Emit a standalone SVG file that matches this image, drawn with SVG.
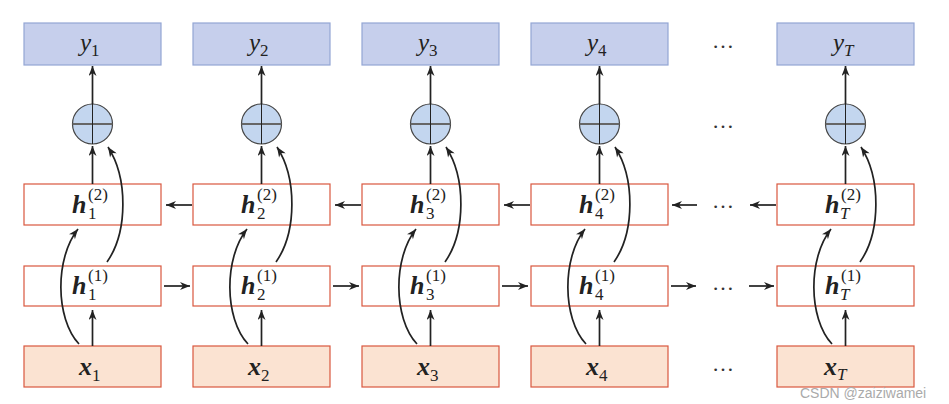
<svg xmlns="http://www.w3.org/2000/svg" width="949" height="404" viewBox="0 0 949 404">
<defs>
<style>
.yb{fill:#c6cfec;stroke:#93a6d4;stroke-width:1.2}
.hb{fill:#ffffff;stroke:#d9573e;stroke-width:1.2}
.xb{fill:#fbe3d2;stroke:#d9573e;stroke-width:1.2}
.cir{fill:#c3d6ef;stroke:#444;stroke-width:1.2}
.ch{stroke:#666;stroke-width:2.2}
.cv{stroke:#222;stroke-width:1}
text{font-family:"Liberation Serif","DejaVu Serif",serif}
.lbl{fill:#222}
.big{font-size:26px;font-style:italic;font-weight:bold}
.yl{font-size:25px;font-style:italic}
.sub{font-size:17px;font-style:normal;font-weight:normal}
.subi{font-size:17px;font-style:italic;font-weight:normal}
.dots{font-size:22px;fill:#333}
.con{fill:none;stroke:#222;stroke-width:1.7}
text.wm{font-family:"Liberation Sans",sans-serif;font-size:14px;fill:#aaa}
</style>
<marker id="ah" viewBox="0 0 10 8" refX="10" refY="4" markerWidth="11" markerHeight="8" markerUnits="userSpaceOnUse" orient="auto">
<path d="M0,0 L10,4 L0,8 L3,4 z" fill="#222"/>
</marker>
</defs>
<rect width="949" height="404" fill="#ffffff"/>

<!-- column 1 -->
<g id="y1"><rect class="yb" x="24" y="23" width="137" height="42"/><text class="lbl" x="80" y="51"><tspan class="yl">y</tspan><tspan class="sub" dy="5">1</tspan></text></g>
<g id="sum1"><circle class="cir" cx="92.5" cy="124" r="20"/><line class="ch" x1="72.5" y1="124" x2="112.5" y2="124"/><line class="cv" x1="92.5" y1="104" x2="92.5" y2="144"/></g>
<g id="h2_1"><rect class="hb" x="24" y="184" width="137" height="41"/><text class="lbl" x="72" y="213"><tspan class="big">h</tspan><tspan class="sub" x="88" y="219">1</tspan><tspan class="sub" x="88" y="200">(2)</tspan></text></g>
<g id="h1_1"><rect class="hb" x="24" y="266" width="137" height="40"/><text class="lbl" x="72" y="294"><tspan class="big">h</tspan><tspan class="sub" x="88" y="300">1</tspan><tspan class="sub" x="88" y="281">(1)</tspan></text></g>
<g id="x1"><rect class="xb" x="24" y="346" width="137" height="41"/><text class="lbl" x="79" y="375"><tspan class="big">x</tspan><tspan class="sub" dy="6">1</tspan></text></g>

<!-- column 2 -->
<g id="y2"><rect class="yb" x="193" y="23" width="137" height="42"/><text class="lbl" x="249" y="51"><tspan class="yl">y</tspan><tspan class="sub" dy="5">2</tspan></text></g>
<g id="sum2"><circle class="cir" cx="261.5" cy="124" r="20"/><line class="ch" x1="241.5" y1="124" x2="281.5" y2="124"/><line class="cv" x1="261.5" y1="104" x2="261.5" y2="144"/></g>
<g id="h2_2"><rect class="hb" x="193" y="184" width="137" height="41"/><text class="lbl" x="241" y="213"><tspan class="big">h</tspan><tspan class="sub" x="257" y="219">2</tspan><tspan class="sub" x="257" y="200">(2)</tspan></text></g>
<g id="h1_2"><rect class="hb" x="193" y="266" width="137" height="40"/><text class="lbl" x="241" y="294"><tspan class="big">h</tspan><tspan class="sub" x="257" y="300">2</tspan><tspan class="sub" x="257" y="281">(1)</tspan></text></g>
<g id="x2"><rect class="xb" x="193" y="346" width="137" height="41"/><text class="lbl" x="248" y="375"><tspan class="big">x</tspan><tspan class="sub" dy="6">2</tspan></text></g>

<!-- column 3 -->
<g id="y3"><rect class="yb" x="362" y="23" width="137" height="42"/><text class="lbl" x="418" y="51"><tspan class="yl">y</tspan><tspan class="sub" dy="5">3</tspan></text></g>
<g id="sum3"><circle class="cir" cx="430.5" cy="124" r="20"/><line class="ch" x1="410.5" y1="124" x2="450.5" y2="124"/><line class="cv" x1="430.5" y1="104" x2="430.5" y2="144"/></g>
<g id="h2_3"><rect class="hb" x="362" y="184" width="137" height="41"/><text class="lbl" x="410" y="213"><tspan class="big">h</tspan><tspan class="sub" x="426" y="219">3</tspan><tspan class="sub" x="426" y="200">(2)</tspan></text></g>
<g id="h1_3"><rect class="hb" x="362" y="266" width="137" height="40"/><text class="lbl" x="410" y="294"><tspan class="big">h</tspan><tspan class="sub" x="426" y="300">3</tspan><tspan class="sub" x="426" y="281">(1)</tspan></text></g>
<g id="x3"><rect class="xb" x="362" y="346" width="137" height="41"/><text class="lbl" x="417" y="375"><tspan class="big">x</tspan><tspan class="sub" dy="6">3</tspan></text></g>

<!-- column 4 -->
<g id="y4"><rect class="yb" x="531" y="23" width="137" height="42"/><text class="lbl" x="587" y="51"><tspan class="yl">y</tspan><tspan class="sub" dy="5">4</tspan></text></g>
<g id="sum4"><circle class="cir" cx="599.5" cy="124" r="20"/><line class="ch" x1="579.5" y1="124" x2="619.5" y2="124"/><line class="cv" x1="599.5" y1="104" x2="599.5" y2="144"/></g>
<g id="h2_4"><rect class="hb" x="531" y="184" width="137" height="41"/><text class="lbl" x="579" y="213"><tspan class="big">h</tspan><tspan class="sub" x="595" y="219">4</tspan><tspan class="sub" x="595" y="200">(2)</tspan></text></g>
<g id="h1_4"><rect class="hb" x="531" y="266" width="137" height="40"/><text class="lbl" x="579" y="294"><tspan class="big">h</tspan><tspan class="sub" x="595" y="300">4</tspan><tspan class="sub" x="595" y="281">(1)</tspan></text></g>
<g id="x4"><rect class="xb" x="531" y="346" width="137" height="41"/><text class="lbl" x="586" y="375"><tspan class="big">x</tspan><tspan class="sub" dy="6">4</tspan></text></g>

<!-- column T -->
<g id="yT"><rect class="yb" x="777" y="23" width="137" height="42"/><text class="lbl" x="833" y="51"><tspan class="yl">y</tspan><tspan class="subi" dy="5">T</tspan></text></g>
<g id="sumT"><circle class="cir" cx="845.5" cy="124" r="20"/><line class="ch" x1="825.5" y1="124" x2="865.5" y2="124"/><line class="cv" x1="845.5" y1="104" x2="845.5" y2="144"/></g>
<g id="h2_T"><rect class="hb" x="777" y="184" width="137" height="41"/><text class="lbl" x="825" y="213"><tspan class="big">h</tspan><tspan class="subi" x="840" y="219">T</tspan><tspan class="sub" x="841" y="200">(2)</tspan></text></g>
<g id="h1_T"><rect class="hb" x="777" y="266" width="137" height="40"/><text class="lbl" x="825" y="294"><tspan class="big">h</tspan><tspan class="subi" x="840" y="300">T</tspan><tspan class="sub" x="841" y="281">(1)</tspan></text></g>
<g id="xT"><rect class="xb" x="777" y="346" width="137" height="41"/><text class="lbl" x="824" y="375"><tspan class="big">x</tspan><tspan class="subi" dy="5">T</tspan></text></g>

<!-- ellipses -->
<g id="ellipses">
<text class="dots" x="712" y="48">…</text>
<text class="dots" x="712" y="128">…</text>
<text class="dots" x="712" y="208">…</text>
<text class="dots" x="712" y="290">…</text>
<text class="dots" x="712" y="371">…</text>
</g>

<g id="connectors">
<!-- col1 -->
<path class="con" marker-end="url(#ah)" d="M92.5,104 L92.5,66"/>
<path class="con" marker-end="url(#ah)" d="M92.5,184 L92.5,146"/>
<path class="con" marker-end="url(#ah)" d="M92.5,346 L92.5,310"/>
<path class="con" marker-end="url(#ah)" d="M79,344 C55,318 55,258 78,229"/>
<path class="con" marker-end="url(#ah)" d="M107,262 C128,232 128,178 108,147"/>
<!-- col2 -->
<path class="con" marker-end="url(#ah)" d="M261.5,104 L261.5,66"/>
<path class="con" marker-end="url(#ah)" d="M261.5,184 L261.5,146"/>
<path class="con" marker-end="url(#ah)" d="M261.5,346 L261.5,310"/>
<path class="con" marker-end="url(#ah)" d="M248,344 C224,318 224,258 247,229"/>
<path class="con" marker-end="url(#ah)" d="M276,262 C297,232 297,178 277,147"/>
<!-- col3 -->
<path class="con" marker-end="url(#ah)" d="M430.5,104 L430.5,66"/>
<path class="con" marker-end="url(#ah)" d="M430.5,184 L430.5,146"/>
<path class="con" marker-end="url(#ah)" d="M430.5,346 L430.5,310"/>
<path class="con" marker-end="url(#ah)" d="M417,344 C393,318 393,258 416,229"/>
<path class="con" marker-end="url(#ah)" d="M445,262 C466,232 466,178 446,147"/>
<!-- col4 -->
<path class="con" marker-end="url(#ah)" d="M599.5,104 L599.5,66"/>
<path class="con" marker-end="url(#ah)" d="M599.5,184 L599.5,146"/>
<path class="con" marker-end="url(#ah)" d="M599.5,346 L599.5,310"/>
<path class="con" marker-end="url(#ah)" d="M586,344 C562,318 562,258 585,229"/>
<path class="con" marker-end="url(#ah)" d="M614,262 C635,232 635,178 615,147"/>
<!-- colT -->
<path class="con" marker-end="url(#ah)" d="M845.5,104 L845.5,66"/>
<path class="con" marker-end="url(#ah)" d="M845.5,184 L845.5,146"/>
<path class="con" marker-end="url(#ah)" d="M845.5,346 L845.5,310"/>
<path class="con" marker-end="url(#ah)" d="M832,344 C808,318 808,258 831,229"/>
<path class="con" marker-end="url(#ah)" d="M860,262 C881,232 881,178 861,147"/>
<!-- forward h1 row -->
<path class="con" marker-end="url(#ah)" d="M164,286 L190,286"/>
<path class="con" marker-end="url(#ah)" d="M333,286 L359,286"/>
<path class="con" marker-end="url(#ah)" d="M502,286 L528,286"/>
<path class="con" marker-end="url(#ah)" d="M671,286 L696,286"/>
<path class="con" marker-end="url(#ah)" d="M749,286 L774,286"/>
<!-- backward h2 row -->
<path class="con" marker-end="url(#ah)" d="M192,205 L166,205"/>
<path class="con" marker-end="url(#ah)" d="M361,205 L335,205"/>
<path class="con" marker-end="url(#ah)" d="M530,205 L504,205"/>
<path class="con" marker-end="url(#ah)" d="M697,205 L672,205"/>
<path class="con" marker-end="url(#ah)" d="M776,205 L750,205"/>
</g>

<text class="wm" x="800" y="398">CSDN @zaiziwamei</text>
</svg>
